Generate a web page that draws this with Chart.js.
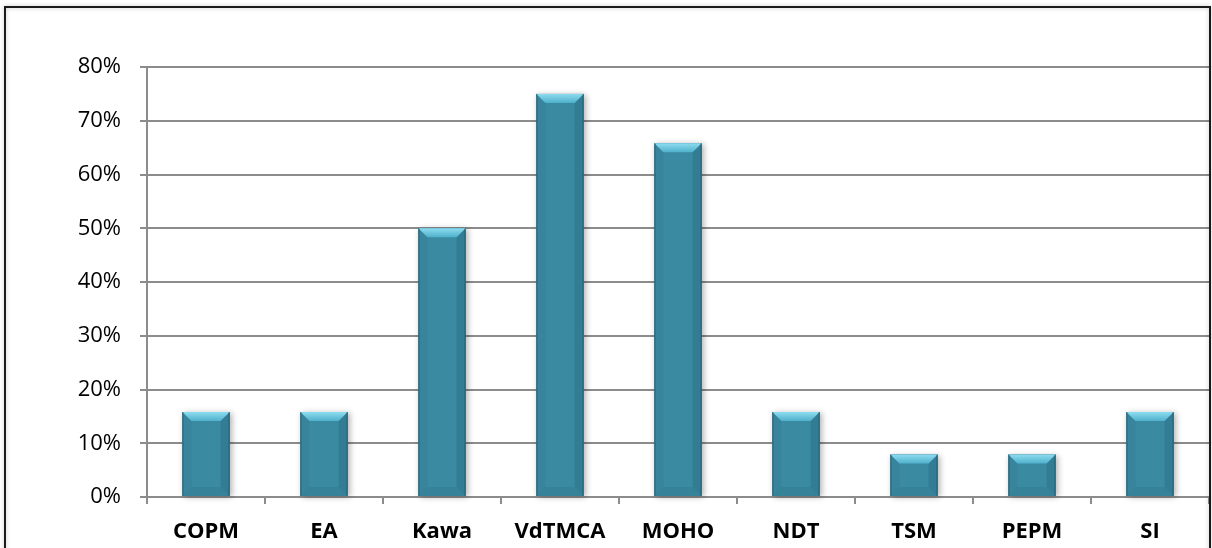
<!DOCTYPE html>
<html>
<head>
<meta charset="utf-8">
<script src="https://cdn.jsdelivr.net/npm/chart.js@4/dist/chart.umd.min.js"></script>
<style>
  html, body { margin: 0; padding: 0; background: #fff; }
  #wrap { position: relative; width: 1212px; height: 548px; }
</style>
</head>
<body>
<div id="wrap"><canvas id="chart-bars" width="1212" height="548"></canvas></div>
<script>
(function() {
  "use strict";

  var categories = ['COPM', 'EA', 'Kawa', 'VdTMCA', 'MOHO', 'NDT', 'TSM', 'PEPM', 'SI'];
  var values = [15.8, 15.8, 50, 75, 65.8, 15.8, 7.9, 7.9, 15.8];
  var yTicks = [0, 10, 20, 30, 40, 50, 60, 70, 80];

  var BAR = '#3a8aa2';
  var GRID = '#8c8c8c';
  var FONT = "'Open Sans', 'Noto Sans', sans-serif";

  // 外枠
  var framePlugin = {
    id: 'frame',
    afterDraw: function(c) {
      var ctx = c.ctx;
      ctx.save();
      ctx.shadowColor = 'rgba(0,0,0,0.25)';
      ctx.shadowBlur = 4;
      ctx.strokeStyle = '#1a1a1a';
      ctx.lineWidth = 2;
      ctx.beginPath();
      ctx.moveTo(5, 560);
      ctx.lineTo(5, 7);
      ctx.lineTo(1210, 7);
      ctx.lineTo(1210, 560);
      ctx.stroke();
      ctx.restore();
    }
  };

  // 影
  var shadowPlugin = {
    id: 'barShadow',
    beforeDatasetsDraw: function(c) {
      var ctx = c.ctx;
      var meta = c.getDatasetMeta(0);
      ctx.save();
      meta.data.forEach(function(bar) {
        var l = bar.x - bar.width / 2, t = bar.y;
        ctx.shadowColor = 'rgba(0,0,0,0.3)';
        ctx.shadowBlur = 6;
        ctx.shadowOffsetX = 2;
        ctx.shadowOffsetY = 1;
        ctx.fillStyle = BAR;
        ctx.fillRect(l, t, bar.width, bar.base - t);
      });
      ctx.restore();
    }
  };

  // ベベル効果
  var bevelPlugin = {
    id: 'bevel',
    afterDatasetsDraw: function(c) {
      var ctx = c.ctx;
      var meta = c.getDatasetMeta(0);
      ctx.save();
      meta.data.forEach(function(bar) {
        var l = bar.x - bar.width / 2, r = bar.x + bar.width / 2;
        var t = bar.y, b = bar.base, d = 9;

        // 左右
        ctx.fillStyle = 'rgba(20,70,85,0.08)';
        ctx.beginPath();
        ctx.moveTo(l, t); ctx.lineTo(l + d, t + d); ctx.lineTo(l + d, b - d); ctx.lineTo(l, b);
        ctx.closePath(); ctx.fill();
        ctx.fillStyle = 'rgba(20,60,75,0.16)';
        ctx.beginPath();
        ctx.moveTo(r, t); ctx.lineTo(r - d, t + d); ctx.lineTo(r - d, b - d); ctx.lineTo(r, b);
        ctx.closePath(); ctx.fill();

        // 上
        var g = ctx.createLinearGradient(0, t, 0, t + d);
        g.addColorStop(0, '#8ddcf0');
        g.addColorStop(1, '#4fb0cb');
        ctx.fillStyle = g;
        ctx.beginPath();
        ctx.moveTo(l, t); ctx.lineTo(r, t); ctx.lineTo(r - d, t + d); ctx.lineTo(l + d, t + d);
        ctx.closePath(); ctx.fill();

        // 下
        ctx.fillStyle = 'rgba(30,90,105,0.15)';
        ctx.beginPath();
        ctx.moveTo(l, b); ctx.lineTo(r, b); ctx.lineTo(r - d, b - d); ctx.lineTo(l + d, b - d);
        ctx.closePath(); ctx.fill();

        ctx.strokeStyle = 'rgba(25,70,85,0.6)';
        ctx.lineWidth = 1;
        ctx.beginPath();
        ctx.moveTo(r - 0.5, t); ctx.lineTo(r - 0.5, b);
        ctx.moveTo(l + 0.5, t); ctx.lineTo(l + 0.5, b);
        ctx.stroke();
      });
      ctx.restore();
    }
  };

  new Chart(document.getElementById('chart-bars'), {
    type: 'bar',
    data: {
      labels: categories,
      datasets: [{
        data: values,
        backgroundColor: BAR,
        borderWidth: 0,
        barPercentage: 0.4,
        categoryPercentage: 1
      }]
    },
    options: {
      responsive: false,
      animation: false,
      layout: { padding: { top: 67, right: 3, left: 0, bottom: 0 } },
      plugins: { legend: { display: false }, tooltip: { enabled: false } },
      scales: {
        x: {
          afterFit: function(s) { s.height = 51; },
          grid: { drawOnChartArea: false, drawTicks: true, tickLength: 7, color: GRID, lineWidth: 2 },
          border: { color: GRID, width: 2 },
          ticks: { color: '#000', padding: 15, font: { family: FONT, size: 22, weight: 'bold' } }
        },
        y: {
          min: 0,
          max: 80,
          afterFit: function(s) { s.width = 147; },
          afterBuildTicks: function(s) { s.ticks = yTicks.map(function(v) { return { value: v }; }); },
          grid: { color: GRID, lineWidth: 2, tickLength: 7 },
          border: { color: GRID, width: 2 },
          ticks: {
            color: '#000',
            padding: 19,
            font: { family: FONT, size: 22 },
            callback: function(v) { return v + '%'; }
          }
        }
      }
    },
    plugins: [shadowPlugin, bevelPlugin, framePlugin]
  });
})();
</script>
</body>
</html>
